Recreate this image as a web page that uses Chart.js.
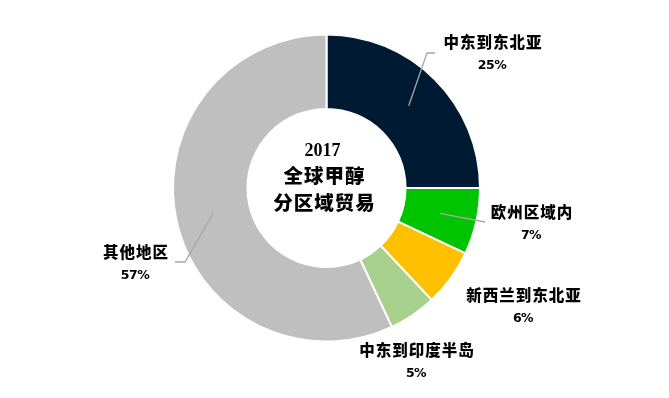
<!DOCTYPE html>
<html>
<head>
<meta charset="utf-8">
<script src="https://cdn.jsdelivr.net/npm/chart.js@4"></script>
<style>
html,body{margin:0;padding:0;background:#fff;}
#wrap{width:669px;height:398px;}
</style>
</head>
<body>
<div id="wrap"><canvas id="c" width="669" height="398"></canvas></div>
<script>
// ---- data ----
const categories = ['中东到东北亚', '欧州区域内', '新西兰到东北亚', '中东到印度半岛', '其他地区'];
const shares = [25, 7, 6, 5, 57];
const percentLabels = ['25%', '7%', '6%', '5%', '57%'];
const centerTitle = ['2017', '全球甲醇', '分区域贸易'];

// ---- styles / layout (not data) ----
const colors = ['#001a33', '#00c400', '#ffc000', '#a9d18e', '#bfbfbf'];
const labelLayout = [
  { x: 493, y: 42, leader: [[427, 53], [435, 53]] },
  { x: 532, y: 212, leader: [[485, 222]] },
  { x: 524, y: 295, leader: null },
  { x: 417, y: 350, leader: null },
  { x: 136, y: 252, leader: [[185, 262], [175, 262]] }
];

const labelPlugin = {
  id: 'labelPlugin',
  afterDatasetsDraw(chart) {
    const ctx = chart.ctx;
    const meta = chart.getDatasetMeta(0);
    ctx.save();
    meta.data.forEach((arc, i) => {
      const lay = labelLayout[i];
      if (!lay.leader) return;
      const p = arc.tooltipPosition();
      ctx.beginPath();
      ctx.moveTo(p.x, p.y);
      lay.leader.forEach(pt => ctx.lineTo(pt[0], pt[1]));
      ctx.strokeStyle = '#a6a6a6';
      ctx.lineWidth = 1.3;
      ctx.stroke();
    });
    ctx.fillStyle = '#000';
    ctx.textAlign = 'center';
    ctx.textBaseline = 'middle';
    categories.forEach((name, i) => {
      const lay = labelLayout[i];
      ctx.font = '900 15.5px "Noto Sans CJK SC"';
      ctx.letterSpacing = '1px';
      ctx.fillText(name, lay.x, lay.y);
      ctx.font = 'bold 12.5px "DejaVu Sans"';
      ctx.letterSpacing = '-0.5px';
      ctx.fillText(percentLabels[i], lay.x - 1, lay.y + 24);
    });
    const cx = (chart.chartArea.left + chart.chartArea.right) / 2;
    const cy = (chart.chartArea.top + chart.chartArea.bottom) / 2;
    ctx.font = 'bold 18px "Liberation Serif"';
    ctx.letterSpacing = '0px';
    ctx.fillText(centerTitle[0], cx - 4, cy - 37);
    ctx.font = '900 19.5px "Noto Sans CJK SC"';
    ctx.letterSpacing = '1px';
    ctx.fillText(centerTitle[1], cx - 2, cy - 12);
    ctx.fillText(centerTitle[2], cx - 2, cy + 15);
    ctx.restore();
  }
};

new Chart(document.getElementById('c'), {
  type: 'doughnut',
  data: {
    labels: categories,
    datasets: [{
      data: shares,
      backgroundColor: colors,
      borderColor: '#ffffff',
      borderWidth: 2
    }]
  },
  options: {
    responsive: false,
    animation: false,
    cutout: '51.5%',
    layout: { padding: { top: 33.5, bottom: 55.5, left: 0, right: 16 } },
    plugins: {
      legend: { display: false },
      tooltip: { enabled: false }
    }
  },
  plugins: [labelPlugin]
});
</script>
</body>
</html>
